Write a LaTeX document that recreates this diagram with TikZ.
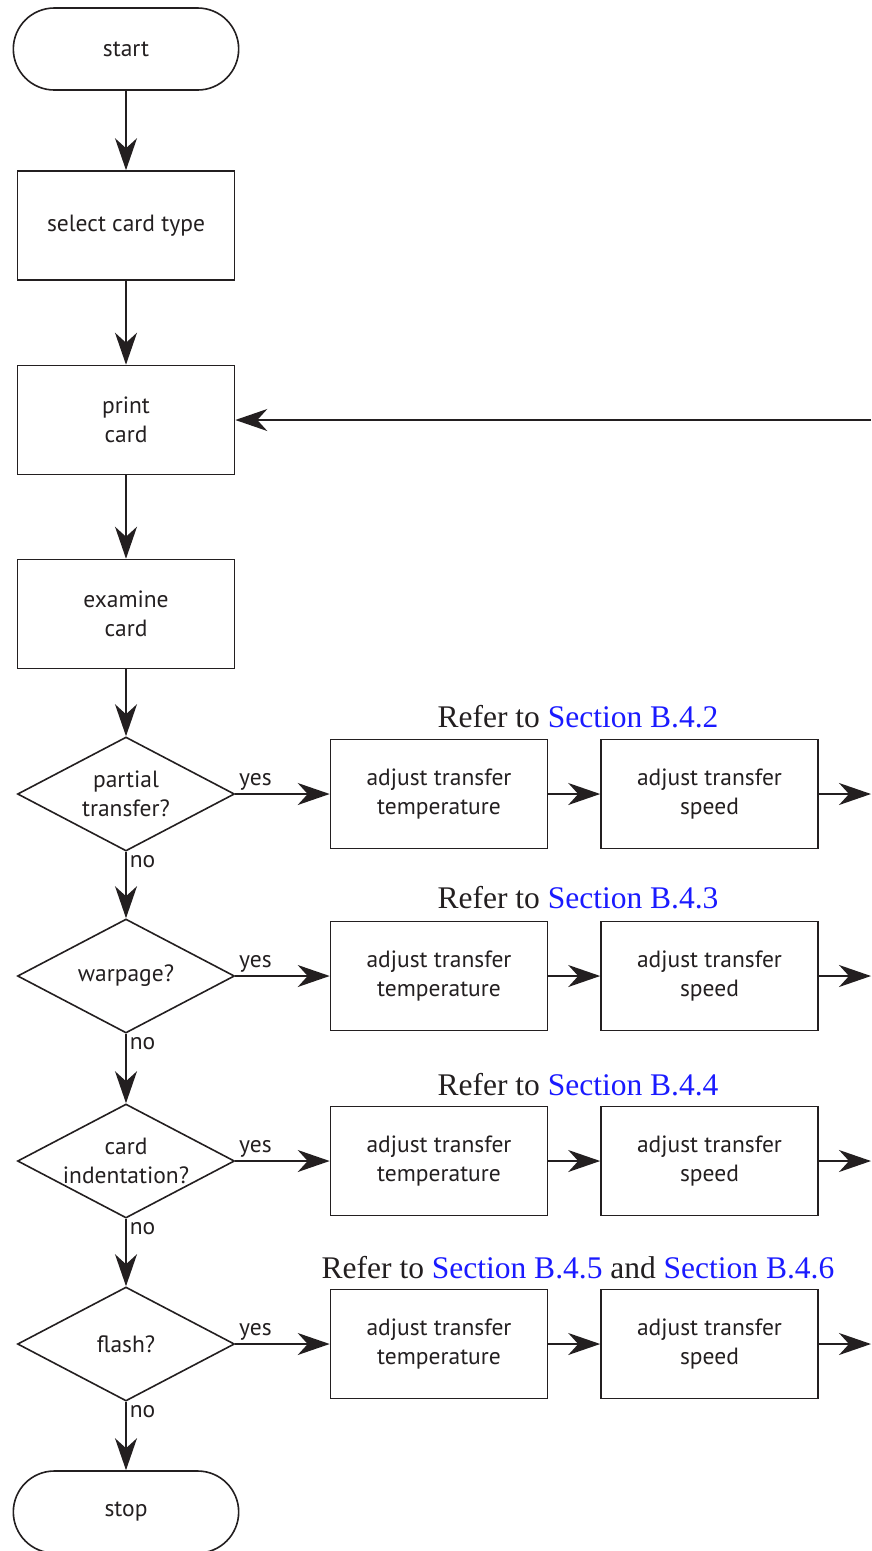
\documentclass[tikz,border=0pt]{standalone}
\usepackage{fontspec}
\newfontfamily\boxfont{PT Sans}
\newfontfamily\reffont{Liberation Serif}
\usepackage{xcolor}
\definecolor{InkBlack}{HTML}{231F20}
\definecolor{LinkBlue}{HTML}{1A1AFF}
\usepackage{tikz}
\usetikzlibrary{shapes.geometric, shapes.misc, arrows.meta}

\begin{document}
\begin{tikzpicture}[
    x=1pt, y=-1pt,
    every node/.style={font=\boxfont\fontsize{23.5}{28.5}\selectfont, text=InkBlack},
    term/.style={draw=InkBlack, line width=1.6pt, rounded rectangle, minimum width=232pt, minimum height=82pt},
    proc/.style={draw=InkBlack, line width=1.6pt, rectangle, minimum width=217pt, minimum height=109pt, align=center},
    dec/.style={draw=InkBlack, line width=1.6pt, diamond, aspect=1.9, inner sep=0pt, minimum width=217pt, minimum height=114pt, align=center},
    arr/.style={draw=InkBlack, line width=1.6pt, -{Stealth[length=32pt, width=22pt, inset=10pt]}},
    lbl/.style={inner sep=3pt},
    refer/.style={font=\reffont\fontsize{31.5}{34}\selectfont},
]
\useasboundingbox (0,0) rectangle (871,1551);

% Row heights of the four checks
\def\yA{794}
\def\yB{976}
\def\yC{1161}
\def\yD{1344}

% Main column
\node[term] (start) at (126, 49) {start};
\node[proc] (select) at (126, 225.5) {select card type};
\node[proc] (print) at (126, 420) {print\\card};
\node[proc] (examine) at (126, 614) {examine\\card};
\node[dec] (partial) at (126, \yA) {partial\\transfer?};
\node[dec] (warp) at (126, \yB) {warpage?};
\node[dec] (indent) at (126, \yC) {card\\indentation?};
\node[dec] (flash) at (126, \yD) {flash?};
\node[term] (stop) at (126, 1512) {stop};

% Adjustment boxes
\node[proc] (tempA) at (439, \yA) {adjust transfer\\temperature};
\node[proc] (speedA) at (709.5, \yA) {adjust transfer\\speed};
\node[proc] (tempB) at (439, \yB) {adjust transfer\\temperature};
\node[proc] (speedB) at (709.5, \yB) {adjust transfer\\speed};
\node[proc] (tempC) at (439, \yC) {adjust transfer\\temperature};
\node[proc] (speedC) at (709.5, \yC) {adjust transfer\\speed};
\node[proc] (tempD) at (439, \yD) {adjust transfer\\temperature};
\node[proc] (speedD) at (709.5, \yD) {adjust transfer\\speed};

% Section references
\node[refer] (refA) at (578, 717) {Refer to \textcolor{LinkBlue}{Section B.4.2}};
\node[refer] (refB) at (578, 898) {Refer to \textcolor{LinkBlue}{Section B.4.3}};
\node[refer] (refC) at (578, 1085) {Refer to \textcolor{LinkBlue}{Section B.4.4}};
\node[refer] (refD) at (578, 1268) {Refer to \textcolor{LinkBlue}{Section B.4.5} and \textcolor{LinkBlue}{Section B.4.6}};

% Loose ends at the right margin
\coordinate (back) at (871, 420);
\coordinate (outA) at (871, \yA);
\coordinate (outB) at (871, \yB);
\coordinate (outC) at (871, \yC);
\coordinate (outD) at (871, \yD);

% Connectors
\draw[arr] (start) -- (select);
\draw[arr] (select) -- (print);
\draw[arr] (print) -- (examine);
\draw[arr] (examine) -- (partial);
\draw[arr] (back) -- (print);

\draw[arr] (partial.south) -- node[at start, anchor=north west, lbl] {no} (warp.north);
\draw[arr] (warp.south) -- node[at start, anchor=north west, lbl] {no} (indent.north);
\draw[arr] (indent.south) -- node[at start, anchor=north west, lbl] {no} (flash.north);
\draw[arr] (flash.south) -- node[at start, anchor=north west, lbl] {no} (stop.north);

\draw[arr] (partial.east) -- node[at start, anchor=south west, lbl] {yes} (tempA);
\draw[arr] (warp.east) -- node[at start, anchor=south west, lbl] {yes} (tempB);
\draw[arr] (indent.east) -- node[at start, anchor=south west, lbl] {yes} (tempC);
\draw[arr] (flash.east) -- node[at start, anchor=south west, lbl] {yes} (tempD);

\draw[arr] (tempA) -- (speedA);
\draw[arr] (tempB) -- (speedB);
\draw[arr] (tempC) -- (speedC);
\draw[arr] (tempD) -- (speedD);
\draw[arr] (speedA) -- (outA);
\draw[arr] (speedB) -- (outB);
\draw[arr] (speedC) -- (outC);
\draw[arr] (speedD) -- (outD);

\end{tikzpicture}
\end{document}
